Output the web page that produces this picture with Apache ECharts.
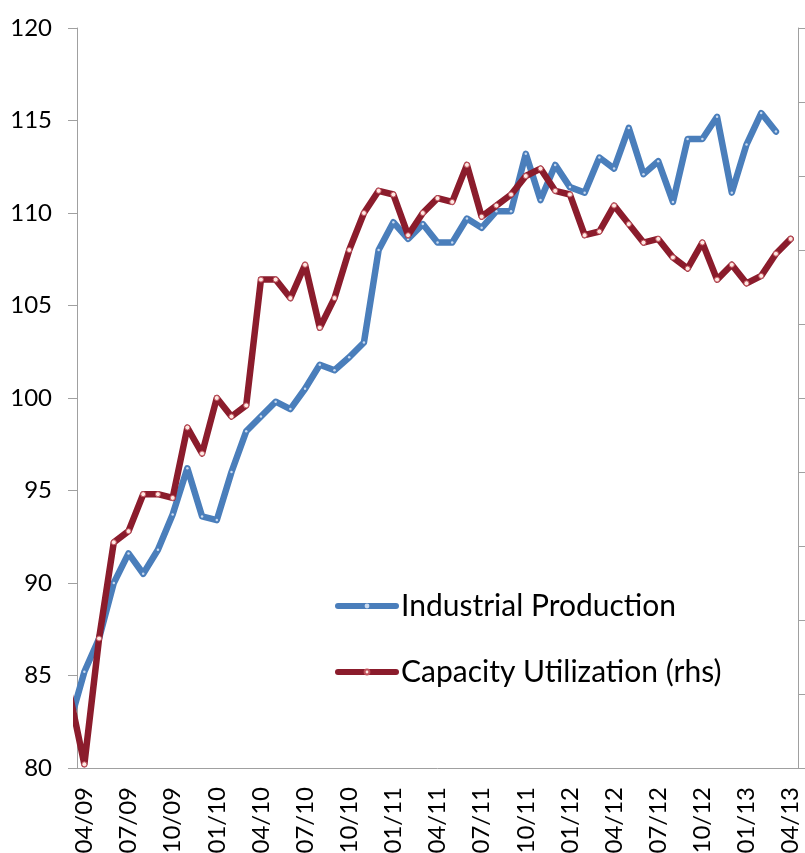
<!DOCTYPE html>
<html>
<head>
<meta charset="utf-8">
<script src="https://cdn.jsdelivr.net/npm/echarts@6/dist/echarts.min.js"></script>
<style>
  html, body { margin: 0; padding: 0; background: #fff; }
  #chart { width: 805px; height: 853px; }
</style>
</head>
<body>
<div id="chart"></div>
<script>
// months, first one (03/09) sits just left of the visible axis range
var months = [
  "03/09", "04/09", "05/09", "06/09", "07/09", "08/09", "09/09", "10/09", "11/09", "12/09",
  "01/10", "02/10", "03/10", "04/10", "05/10", "06/10", "07/10", "08/10", "09/10", "10/10",
  "11/10", "12/10", "01/11", "02/11", "03/11", "04/11", "05/11", "06/11", "07/11", "08/11",
  "09/11", "10/11", "11/11", "12/11", "01/12", "02/12", "03/12", "04/12", "05/12", "06/12",
  "07/12", "08/12", "09/12", "10/12", "11/12", "12/12", "01/13", "02/13", "03/13", "04/13"
];

// left axis
var industrialProduction = [
  82.4, 85.2, 87.0, 90.0, 91.6, 90.5, 91.8, 93.7, 96.2, 93.6,
  93.4, 96.0, 98.2, 99.0, 99.8, 99.4, 100.5, 101.8, 101.5, 102.2,
  103.0, 108.0, 109.5, 108.6, 109.4, 108.4, 108.4, 109.7, 109.2, 110.1,
  110.1, 113.2, 110.7, 112.6, 111.4, 111.1, 113.0, 112.4, 114.6, 112.1,
  112.8, 110.6, 114.0, 114.0, 115.2, 111.1, 113.7, 115.4, 114.4, null
];

// right axis (rhs)
var capacityUtilization = [
  66.0, 64.1, 67.5, 70.1, 70.4, 71.4, 71.4, 71.3, 73.2, 72.5,
  74.0, 73.5, 73.8, 77.2, 77.2, 76.7, 77.6, 75.9, 76.7, 78.0,
  79.0, 79.6, 79.5, 78.4, 79.0, 79.4, 79.3, 80.3, 78.9, 79.2,
  79.5, 80.0, 80.2, 79.6, 79.5, 78.4, 78.5, 79.2, 78.7, 78.2,
  78.3, 77.8, 77.5, 78.2, 77.2, 77.6, 77.1, 77.3, 77.9, 78.3
];

var leftTicks = { min: 80, max: 120, interval: 5 };
var rightTicks = { min: 64, max: 84, interval: 2 };

var FONT = "Lato";
var AXIS_GREY = "#a0a0a0";
var BLUE = "#4a7ebb";
var RED = "#8b1c2c";

var chart = echarts.init(document.getElementById("chart"));

// every third month, starting at 04/09
function quarterly(idx) {
  return (idx - 1) % 3 === 0;
}

chart.setOption({
  animation: false,
  textStyle: { fontFamily: FONT },
  grid: {
    left: 77,
    right: 7,
    top: 28,
    bottom: 85,
    containLabel: false,
    outerBoundsMode: "none"
  },
  legend: {
    orient: "vertical",
    left: 335,
    top: 586,
    padding: 0,
    itemWidth: 58,
    itemHeight: 6,
    itemGap: 26,
    lineStyle: { width: 6 },
    textStyle: { fontFamily: FONT, fontSize: 30, color: "#000", lineHeight: 40 },
    data: ["Industrial Production", "Capacity Utilization (rhs)"]
  },
  xAxis: {
    type: "category",
    data: months,
    min: 1,
    boundaryGap: true,
    axisLine: { lineStyle: { color: AXIS_GREY, width: 1 } },
    axisTick: { interval: quarterly, length: 9, lineStyle: { color: AXIS_GREY } },
    axisLabel: {
      interval: quarterly,
      rotate: 90,
      margin: 19,
      fontSize: 24,
      color: "#000",
      fontFamily: FONT
    },
    splitLine: { show: false }
  },
  yAxis: [
    {
      type: "value",
      position: "left",
      min: leftTicks.min,
      max: leftTicks.max,
      interval: leftTicks.interval,
      axisLine: { show: true, lineStyle: { color: AXIS_GREY } },
      axisTick: { show: true, length: 9, lineStyle: { color: AXIS_GREY } },
      axisLabel: { fontSize: 24, color: "#000", margin: 25, fontFamily: FONT },
      splitLine: { show: false }
    },
    {
      type: "value",
      position: "right",
      min: rightTicks.min,
      max: rightTicks.max,
      interval: rightTicks.interval,
      axisLine: { show: true, lineStyle: { color: AXIS_GREY } },
      axisTick: { show: true, length: 7, lineStyle: { color: AXIS_GREY } },
      axisLabel: { show: false },
      splitLine: { show: false }
    }
  ],
  series: [
    {
      name: "Industrial Production",
      type: "line",
      yAxisIndex: 0,
      data: industrialProduction,
      clip: true,
      symbol: "circle",
      symbolSize: 2.5,
      showAllSymbol: true,
      itemStyle: { color: "#c9daf0", borderWidth: 0 },
      lineStyle: { color: BLUE, width: 6.5, cap: "round", join: "round" },
      z: 2
    },
    {
      name: "Capacity Utilization (rhs)",
      type: "line",
      yAxisIndex: 1,
      data: capacityUtilization,
      clip: true,
      symbol: "circle",
      symbolSize: 5,
      showAllSymbol: true,
      itemStyle: { color: "#fde8e2", borderColor: "#c0505a", borderWidth: 1 },
      lineStyle: { color: RED, width: 6.5, cap: "round", join: "round" },
      z: 3
    }
  ]
});

window.addEventListener("resize", function () {
  chart.resize();
});
</script>
</body>
</html>
